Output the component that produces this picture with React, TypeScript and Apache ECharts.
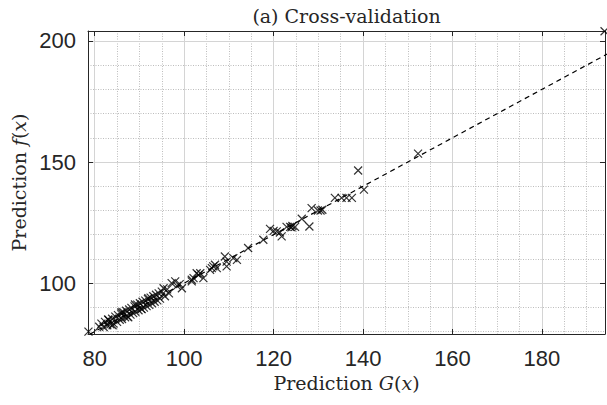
import React, { useEffect, useRef } from "react";
import * as echarts from "echarts";

// Axis extents and ticks
const xMin = 78.5;
const xMax = 194.1;
const yMin = 79;
const yMax = 204.1;
const xMajorTicks = [80, 100, 120, 140, 160, 180];
const xMinorTicks = [80, 85, 90, 95, 100, 105, 110, 115, 120, 125, 130, 135, 140, 145, 150, 155, 160, 165, 170, 175, 180, 185, 190];
const yMajorTicks = [100, 150, 200];
const yMinorTicks = [80, 90, 100, 110, 120, 130, 140, 150, 160, 170, 180, 190, 200];

// Cross-validation predictions: G(x) (horizontal) and f(x) (vertical)
const predG = [
  78.6, 81.0, 81.5, 82.0, 82.3, 82.8, 83.1, 83.5, 83.9, 84.2, 84.6, 85.0, 85.2, 85.6, 85.9, 86.1, 86.4, 86.8, 87.0, 87.3,
  87.7, 88.0, 88.2, 88.6, 88.9, 89.1, 89.5, 89.8, 90.1, 90.4, 90.7, 91.0, 91.3, 91.6, 91.9, 92.2, 92.5, 92.8, 93.1, 93.4,
  93.7, 94.0, 94.3, 94.6, 95.0, 95.4, 95.7, 96.2, 96.6, 97.2, 98.0, 98.4, 99.5, 99.0, 83.0, 86.0, 89.0, 92.0, 84.0, 87.5,
  90.5, 101.7, 101.7, 102.1, 102.8, 103.2, 103.6, 104.3, 105.8, 106.2, 106.5, 106.9, 107.3, 109.1, 109.5, 109.5, 111.0, 111.8,
  114.3, 117.7, 119.2, 120.0, 120.7, 121.4, 121.8, 122.9, 123.7, 124.0, 124.8, 124.2, 126.3, 128.0, 128.5, 129.9, 130.5, 130.9,
  133.7, 135.2, 136.3, 137.5, 138.9, 140.2, 152.3, 194.0,
];
const predF = [
  80.0, 82.0, 83.3, 81.9, 84.0, 82.6, 84.8, 83.0, 85.3, 83.3, 86.2, 84.0, 86.8, 84.9, 87.4, 85.2, 88.0, 85.9, 88.6, 86.3,
  89.1, 87.0, 89.8, 87.6, 90.4, 88.2, 91.1, 88.8, 91.7, 89.4, 92.3, 89.9, 92.8, 90.5, 93.4, 91.0, 94.0, 91.7, 94.6, 92.3,
  95.2, 92.9, 95.8, 93.6, 96.5, 97.9, 94.6, 97.4, 95.8, 100.0, 100.7, 98.9, 97.9, 99.6, 85.0, 88.0, 91.2, 93.8, 82.6, 85.9,
  89.3, 101.4, 100.7, 102.1, 104.1, 103.4, 104.1, 102.1, 105.5, 106.2, 106.9, 107.6, 106.2, 111.0, 108.9, 106.9, 110.3, 109.6,
  114.5, 117.9, 122.4, 121.6, 121.4, 120.9, 119.3, 123.2, 123.2, 123.0, 123.2, 123.6, 126.6, 123.4, 131.0, 130.0, 130.0, 130.3,
  135.2, 135.2, 135.2, 135.2, 146.5, 138.6, 153.5, 204.0,
];

// Reference line f(x) = G(x)
const identityLine = [
  [70, 70],
  [210, 210],
];

const axisColor = "#262626";
const tickFont = "Liberation Sans";
const serifFont = "DejaVu Serif";

export default function App() {
  const ref = useRef<HTMLDivElement>(null);

  useEffect(() => {
    if (!ref.current) return;
    const chart = echarts.init(ref.current, undefined, { renderer: "svg" });
    const points = predG.map((g, i) => [g, predF[i]]);

    const minorSplit = { show: true, lineStyle: { color: "#bdbdbd", type: [1, 1.5], width: 1 } };
    const majorSplit = { show: true, lineStyle: { color: "#d4d4d4", type: "solid", width: 1 } };
    const line = { show: true, onZero: false, lineStyle: { color: axisColor, width: 1 } };

    chart.setOption({
      animation: false,
      backgroundColor: "#ffffff",
      grid: { left: 88, right: 2, top: 31, bottom: 71, containLabel: false },
      xAxis: [
        {
          type: "value", min: xMin, max: xMax, position: "bottom", z: 1,
          axisLine: line,
          axisTick: { show: true, inside: true, length: 5, customValues: xMajorTicks, lineStyle: { color: axisColor } },
          axisLabel: { show: true, customValues: xMajorTicks, margin: 13, color: axisColor, fontFamily: tickFont, fontSize: 22 },
          splitLine: majorSplit,
          name: "Prediction {i|G}({i|x})",
          nameLocation: "middle",
          nameGap: 38,
          nameTextStyle: {
            fontFamily: serifFont, fontSize: 19, color: axisColor,
            rich: { i: { fontFamily: serifFont, fontSize: 19, fontStyle: "italic", color: axisColor } },
          },
        },
        {
          type: "value", min: xMin, max: xMax, position: "top", z: 1,
          axisLine: line,
          axisTick: { show: true, inside: true, length: 5, customValues: xMajorTicks, lineStyle: { color: axisColor } },
          axisLabel: { show: false },
          splitLine: { show: false },
          name: "(a) Cross-validation",
          nameLocation: "middle",
          nameGap: 6,
          nameTextStyle: { fontFamily: serifFont, fontSize: 19, color: axisColor },
        },
        {
          type: "value", min: xMin, max: xMax, position: "top", z: 0,
          axisLine: { show: false },
          axisTick: { show: false, customValues: xMinorTicks },
          axisLabel: { show: false },
          splitLine: minorSplit,
        },
      ],
      yAxis: [
        {
          type: "value", min: yMin, max: yMax, position: "left", z: 1,
          axisLine: line,
          axisTick: { show: true, inside: true, length: 5, customValues: yMajorTicks, lineStyle: { color: axisColor } },
          axisLabel: { show: true, customValues: yMajorTicks, margin: 12, color: axisColor, fontFamily: tickFont, fontSize: 22 },
          splitLine: majorSplit,
          name: "Prediction {i|f}({i|x})",
          nameLocation: "middle",
          nameGap: 58,
          nameTextStyle: {
            fontFamily: serifFont, fontSize: 19, color: axisColor,
            rich: { i: { fontFamily: serifFont, fontSize: 19, fontStyle: "italic", color: axisColor } },
          },
        },
        {
          type: "value", min: yMin, max: yMax, position: "right", z: 1,
          axisLine: line,
          axisTick: { show: true, inside: true, length: 5, customValues: yMajorTicks, lineStyle: { color: axisColor } },
          axisLabel: { show: false },
          splitLine: { show: false },
        },
        {
          type: "value", min: yMin, max: yMax, position: "right", z: 0,
          axisLine: { show: false },
          axisTick: { show: false, customValues: yMinorTicks },
          axisLabel: { show: false },
          splitLine: minorSplit,
        },
      ],
      series: [
        {
          type: "line",
          xAxisIndex: 0,
          yAxisIndex: 0,
          data: identityLine,
          showSymbol: false,
          symbol: "none",
          clip: true,
          lineStyle: { color: "#000000", width: 1.2, type: [5, 4] },
          z: 3,
        },
        {
          type: "scatter",
          xAxisIndex: 0,
          yAxisIndex: 0,
          data: points,
          symbol: "path://M0,0L10,10M10,0L0,10",
          symbolSize: 8,
          clip: true,
          itemStyle: { color: "none", borderColor: "#000000", borderWidth: 1.2 },
          z: 4,
        },
      ],
    });
    return () => chart.dispose();
  }, []);

  return (
    <div
      ref={ref}
      style={{ position: "absolute", left: 0, top: 0, width: 607, height: 405, background: "#ffffff" }}
    />
  );
}
